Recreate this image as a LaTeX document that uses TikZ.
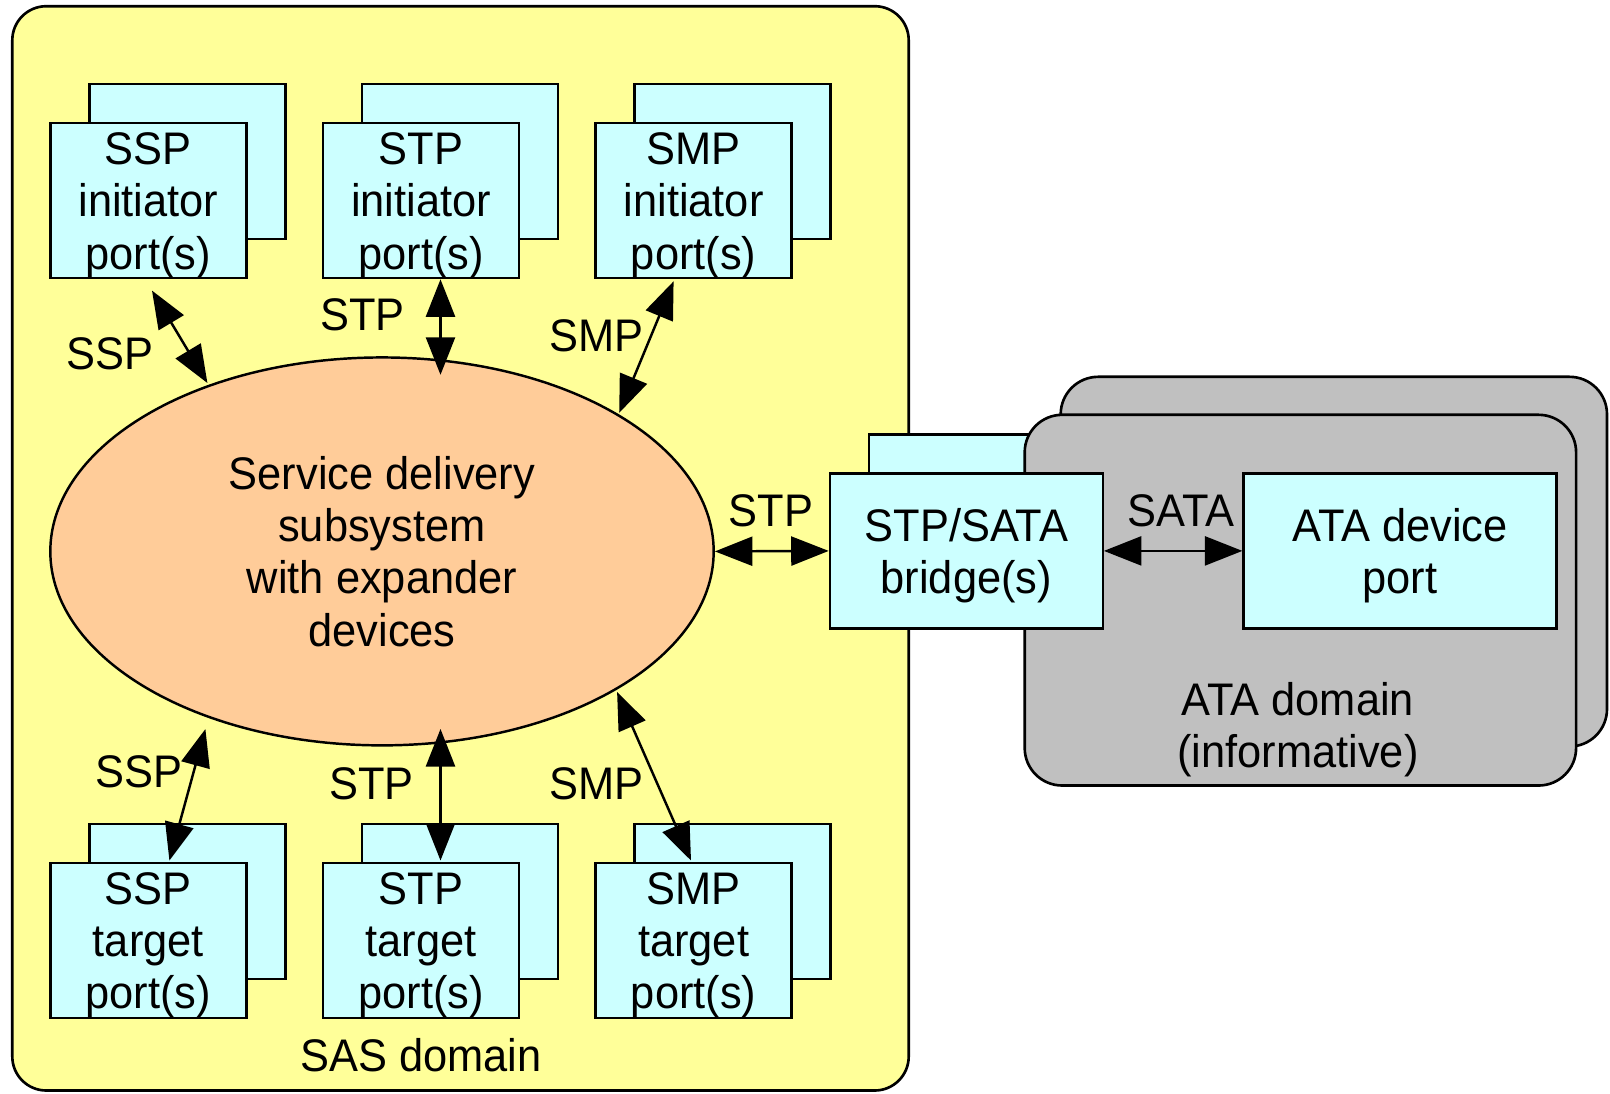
\documentclass[tikz,border=0pt]{standalone}
\usepackage{fontspec}
\setmainfont{Liberation Sans}[FakeStretch=0.95]
\usetikzlibrary{arrows.meta,shapes.geometric}
\definecolor{sasyellow}{HTML}{FFFF99}
\definecolor{portcyan}{HTML}{CCFFFF}
\definecolor{ellorange}{HTML}{FFCC99}
\definecolor{atagrey}{HTML}{C0C0C0}
\begin{document}
\begin{tikzpicture}[x=0.02cm,y=-0.02cm,
  txt/.style={font=\fontsize{26}{29.8}\selectfont, align=center},
  portbox/.style={draw=black, line width=1.3pt, fill=portcyan, minimum width=3.92cm, minimum height=3.1cm, inner sep=0pt, txt, text depth=0pt},
  backbox/.style={draw=black, line width=1.3pt, fill=portcyan, minimum width=3.92cm, minimum height=3.1cm, inner sep=0pt},
  conn/.style={line width=1.4pt, {Triangle[length=0.75cm,width=0.58cm]}-{Triangle[length=0.75cm,width=0.58cm]}},
  lbl/.style={txt, inner sep=0pt}]
\useasboundingbox (0,0) rectangle (1610,1093);
% SAS domain
\draw[line width=1.5pt, fill=sasyellow, rounded corners=0.68cm] (12.3,6.2) rectangle (908.7,1090.5);
\node[lbl] (sasdom) at (421,1055.6) {SAS domain};
% back bridge box, then ATA domain
\node[backbox, minimum width=5.46cm] (bridgeback) at (1005.3,511.9) {};
\draw[line width=1.5pt, fill=atagrey, rounded corners=0.75cm] (1060.7,376.8) rectangle (1607,746.5);
\draw[line width=1.5pt, fill=atagrey, rounded corners=0.75cm] (1024.7,414.8) rectangle (1576.1,785.5);
\node[lbl, text depth=0pt] (atadom) at (1297.9,725) {ATA domain\\(informative)};
% ellipse
\node[ellipse, draw=black, line width=1.4pt, fill=ellorange, minimum width=13.27cm, minimum height=7.76cm, inner sep=0pt, txt] (ell) at (382,551.4) {Service delivery\\subsystem\\with expander\\devices};
% initiator ports
\node[backbox] (sspib) at (187.4,161.75) {};
\node[portbox] (sspi) at (148.4,200.75) {SSP\\initiator\\port(s)};
\node[backbox] (stpib) at (460,161.75) {};
\node[portbox] (stpi) at (421,200.75) {STP\\initiator\\port(s)};
\node[backbox] (smpib) at (732.6,161.75) {};
\node[portbox] (smpi) at (693.6,200.75) {SMP\\initiator\\port(s)};
% target ports
\node[backbox] (ssptb) at (187.4,901.6) {};
\node[portbox] (sspt) at (148.4,940.6) {SSP\\target\\port(s)};
\node[backbox] (stptb) at (460,901.6) {};
\node[portbox] (stpt) at (421,940.6) {STP\\target\\port(s)};
\node[backbox] (smptb) at (732.6,901.6) {};
\node[portbox] (smpt) at (693.6,940.6) {SMP\\target\\port(s)};
% bridge and ATA device
\node[portbox, minimum width=5.46cm] (bridge) at (966.3,550.9) {STP/SATA\\bridge(s)};
\node[portbox, minimum width=6.26cm] (atadev) at (1400,550.9) {ATA device\\port};
% connector endpoints
\coordinate (a1) at (152,290.6);   \coordinate (a2) at (207.4,383);
\coordinate (b1) at (440.5,279.3); \coordinate (b2) at (440.5,374.8);
\coordinate (c1) at (673.6,281.3); \coordinate (c2) at (619.2,412.8);
\coordinate (d1) at (205.4,729);   \coordinate (d2) at (169.4,860.5);
\coordinate (e1) at (440.5,729);   \coordinate (e2) at (440.5,860.5);
\coordinate (f1) at (617.1,692);   \coordinate (f2) at (691,860.5);
\draw[conn] (a1) -- (a2);
\draw[conn] (b1) -- (b2);
\draw[conn] (c1) -- (c2);
\draw[conn] (d1) -- (d2);
\draw[conn] (e1) -- (e2);
\draw[conn] (f1) -- (f2);
\draw[conn] (ell.east) -- (bridge.west);
\draw[conn] (bridge.east) -- (atadev.west);
% labels
\node[lbl] (l1) at (109.9,354.2) {SSP};
\node[lbl] (l2) at (362.5,315.2) {STP};
\node[lbl] (l3) at (596.6,335.8) {SMP};
\node[lbl] (l4) at (138.6,772.2) {SSP};
\node[lbl] (l5) at (371.7,783.4) {STP};
\node[lbl] (l6) at (596.6,783.4) {SMP};
\node[lbl] (l7) at (771.1,510.3) {STP};
\node[lbl] (l8) at (1180.8,510.3) {SATA};
\end{tikzpicture}
\end{document}
